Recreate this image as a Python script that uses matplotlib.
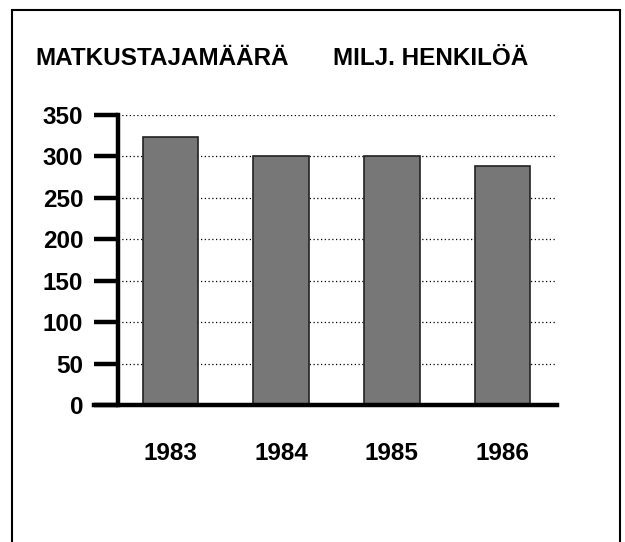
import matplotlib
matplotlib.use("Agg")
import matplotlib.pyplot as plt
from matplotlib.patches import Rectangle

# data
years = ["1983", "1984", "1985", "1986"]
passengers = [323, 300, 301, 289]  # milj. henkilöä
y_ticks = [0, 50, 100, 150, 200, 250, 300, 350]

plt.rcParams["font.family"] = ["Liberation Sans", "DejaVu Sans"]
FS = 17.5

fig = plt.figure(figsize=(6.25, 5.42), dpi=100)
ax = fig.add_axes([0.1888, 0.2528, 0.7024, 0.535])

x = list(range(len(years)))
ax.bar(x, passengers, width=0.5, color="#777777", edgecolor="#222222",
       linewidth=1.2, zorder=3)

ax.set_xlim(-0.474, 3.492)
ax.set_ylim(0, 350)
ax.set_yticks(y_ticks)
ax.set_yticklabels([str(v) for v in y_ticks], fontsize=FS, fontweight="bold")
ax.set_xticks(x)
ax.set_xticklabels(years, fontsize=FS, fontweight="bold")

for v in y_ticks[1:]:
    ax.axhline(v, color="black", linewidth=0.9, linestyle=(0, (1, 2)), zorder=1)

for side in ["top", "right"]:
    ax.spines[side].set_visible(False)
ax.spines["left"].set_linewidth(3.2)
ax.spines["bottom"].set_linewidth(3.2)
ax.spines["bottom"].set_zorder(4)
ax.spines["bottom"].set_bounds(-0.474 - 24 / 110.7, 3.492)
ax.spines["bottom"].set_clip_on(False)

ax.tick_params(axis="y", length=17, width=3.2, pad=8, direction="out")
ax.tick_params(axis="x", length=0, pad=27)

fig.text(35 / 625, 0.892, "MATKUSTAJAMÄÄRÄ", fontsize=FS, fontweight="bold",
         va="center", ha="left")
fig.text(333 / 625, 0.892, "MILJ. HENKILÖÄ", fontsize=FS, fontweight="bold",
         va="center", ha="left")

fig.patches.append(Rectangle((12 / 625, -0.05), 608 / 625, 0.9815 + 0.05,
                             transform=fig.transFigure, fill=False,
                             edgecolor="black", linewidth=1.5))

fig.savefig("out.png", dpi=100)
